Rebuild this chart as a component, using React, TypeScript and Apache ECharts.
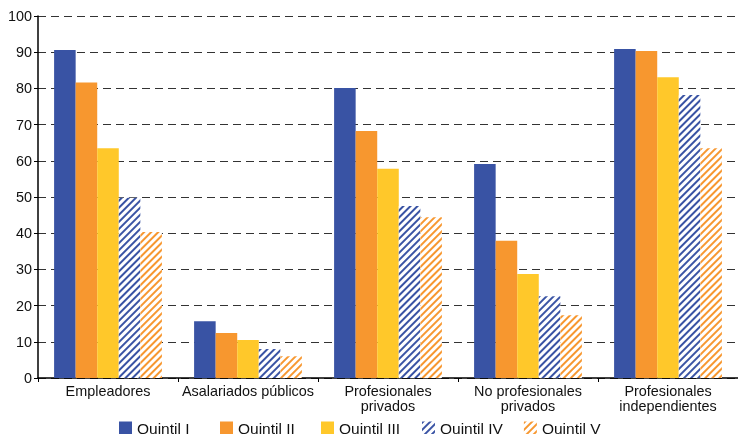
import React, { useEffect, useRef } from "react";
import * as echarts from "echarts";

const categories = [
  "Empleadores",
  "Asalariados públicos",
  "Profesionales\nprivados",
  "No profesionales\nprivados",
  "Profesionales\nindependientes",
];
const seriesNames = ["Quintil I", "Quintil II", "Quintil III", "Quintil IV", "Quintil V"];
const q1 = [90.6, 15.7, 80.1, 59.1, 90.9];
const q2 = [81.6, 12.4, 68.2, 37.9, 90.3];
const q3 = [63.5, 10.5, 57.8, 28.7, 83.1];
const q4 = [49.8, 8.0, 47.5, 22.6, 78.2];
const q5 = [40.3, 6.0, 44.4, 17.3, 63.5];
const yTicks = [0, 10, 20, 30, 40, 50, 60, 70, 80, 90, 100];

const BLUE = "#3953a4";
const ORANGE = "#f7972f";
const YELLOW = "#ffc82a";

export default function App() {
  const ref = useRef<HTMLDivElement>(null);
  useEffect(() => {
    if (!ref.current) return;
    const chart = echarts.init(ref.current, null, { renderer: "svg" });
    const font = "'Liberation Sans', Arial, sans-serif";
    const stripe = (c: string) => ({
      symbol: "rect",
      color: c,
      backgroundColor: "#ffffff",
      dashArrayX: [1, 0],
      dashArrayY: [2, 3],
      rotation: -Math.PI / 4,
      symbolSize: 1,
    });
    const data = [q1, q2, q3, q4, q5];
    const colors = [BLUE, ORANGE, YELLOW, "#ffffff", "#ffffff"];
    const series = data.map((d, i) => ({
      name: seriesNames[i],
      type: "bar",
      data: d,
      barGap: "0%",
      barCategoryGap: "23%",
      itemStyle: {
        color: colors[i],
        ...(i === 3 ? { decal: stripe(BLUE) } : {}),
        ...(i === 4 ? { decal: stripe(ORANGE) } : {}),
      },
    }));
    chart.setOption({
      animation: false,
      grid: { left: 38, right: 0, top: 16, bottom: 56, containLabel: false },
      legend: {
        left: 119,
        top: 420,
        padding: 0,
        itemWidth: 13,
        itemHeight: 13,
        itemGap: 21,
        icon: "rect",
        textStyle: { fontFamily: font, fontSize: 15.5, color: "#111", width: 62, lineHeight: 14, padding: [0, 0, 2, 0] },
        data: seriesNames,
      },
      xAxis: {
        type: "category",
        data: categories,
        axisLine: { lineStyle: { color: "#000", width: 1.5 } },
        axisTick: { show: true, length: 4, lineStyle: { color: "#000" } },
        axisLabel: { fontFamily: font, fontSize: 14.4, color: "#111", lineHeight: 14.5, interval: 0, margin: 6 },
      },
      yAxis: {
        type: "value",
        min: 0,
        max: 100,
        interval: 10,
        axisLine: { show: true, lineStyle: { color: "#000", width: 1.5 } },
        axisTick: { show: true, length: 4, lineStyle: { color: "#000" } },
        axisLabel: {
          fontFamily: font,
          fontSize: 14.4,
          color: "#111",
          margin: 6,
          formatter: (v: number) => (yTicks.includes(v) ? String(v) : ""),
        },
        splitLine: { show: true, lineStyle: { color: "#333", type: [8, 5], width: 1 } },
      },
      series,
    });
    return () => chart.dispose();
  }, []);
  return <div ref={ref} style={{ position: "fixed", left: 0, top: 0, width: 738, height: 434 }} />;
}
